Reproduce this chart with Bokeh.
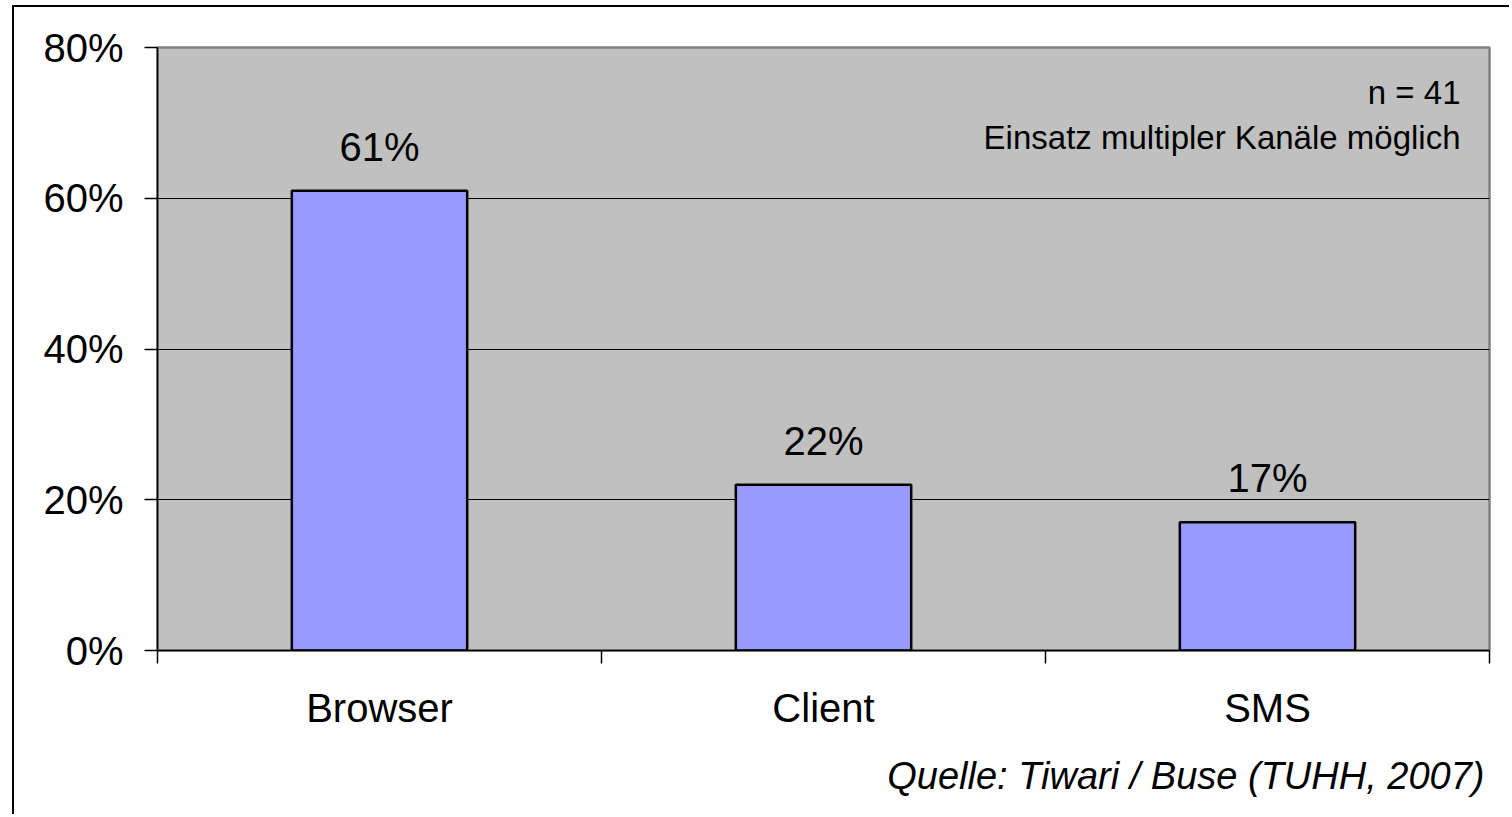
from bokeh.plotting import figure
from bokeh.models import (FactorRange, Range1d, CategoricalAxis, FixedTicker,
                          PrintfTickFormatter, Label, ColumnDataSource, Title)
from bokeh.core.properties import value
from bokeh.embed import file_html
from bokeh.resources import INLINE

categories = ["Browser", "Client", "SMS"]
shares = [61, 22, 17]
y_ticks = [0, 20, 40, 60, 80]
sample_note = "n = 41"
channel_note = "Einsatz multipler Kanäle möglich"
source_note = "Quelle: Tiwari / Buse (TUHH, 2007)"

FONT = value("Liberation Sans")

src = ColumnDataSource(dict(cat=categories, val=shares, label=[f"{v}%" for v in shares]))

p = figure(
    x_range=FactorRange(factors=categories, range_padding=0),
    y_range=Range1d(0, 80),
    width=1497, height=809,
    output_backend="svg", toolbar_location=None,
    x_axis_location=None,
    min_border_left=143, min_border_top=40, min_border_right=22, min_border_bottom=166,
    background_fill_color="#C0C0C0", border_fill_color="white",
    outline_line_color="#808080", outline_line_width=2.5,
)
p.styles = {"margin-left": "12px", "margin-top": "5px",
            "border-left": "2px solid black", "border-top": "2px solid black"}

# boundary positions between categories (category edges), as a second categorical range
edges = [f"edge{i}" for i in range(len(categories) + 1)]
p.extra_x_ranges = {"edges": FactorRange(factors=edges, range_padding=-0.4999,
                                         range_padding_units="absolute")}

p.vbar(x="cat", top="val", width=0.395, source=src, fill_color="#9999FF",
       line_color="black", line_width=2.5)

p.text(x="cat", y="val", text="label", source=src, text_align="center",
       text_baseline="alphabetic", y_offset=-44, text_font=FONT,
       text_font_size="40px", text_color="black")

# y axis
ya = p.yaxis[0]
ya.ticker = FixedTicker(ticks=y_ticks)
ya.formatter = PrintfTickFormatter(format="%d%%")
ya.major_label_text_font = "Liberation Sans"
ya.major_label_text_font_size = "40px"
ya.major_label_text_color = "black"
ya.major_label_standoff = 21
ya.major_tick_out = 13
ya.major_tick_in = 0
ya.minor_tick_line_color = None
ya.axis_line_width = 1.5
ya.axis_line_color = "black"
ya.major_tick_line_color = "black"
ya.major_tick_line_width = 1.5

p.ygrid.ticker = FixedTicker(ticks=y_ticks)
p.ygrid.grid_line_color = "black"
p.ygrid.grid_line_width = 1
p.xgrid.grid_line_color = None

# x axis line with ticks at category edges
tick_axis = CategoricalAxis(x_range_name="edges",
                            major_label_text_font_size="0px", major_label_text_color=None,
                            major_tick_out=13, major_tick_in=0,
                            axis_line_color="black", axis_line_width=1.5,
                            major_tick_line_color="black", major_tick_line_width=1.5,
                            major_label_standoff=0)
p.add_layout(tick_axis, "below")

cat_axis = CategoricalAxis(axis_line_color=None, major_tick_line_color=None,
                           major_label_text_font="Liberation Sans", major_label_text_font_size="40px",
                           major_label_text_color="black", major_label_standoff=16)
p.add_layout(cat_axis, "below")

p.add_layout(Title(text=source_note, align="right", text_font="Liberation Sans",
                   text_font_style="italic", text_font_size="38px", text_color="black",
                   standoff=40, offset=5), "below")

right_edge = len(categories)
p.add_layout(Label(x=right_edge, y=80, x_offset=-29, y_offset=-45,
                   text=sample_note, text_align="right", text_baseline="alphabetic",
                   text_font="Liberation Sans", text_font_size="33px", text_color="black"))
p.add_layout(Label(x=right_edge, y=80, x_offset=-29, y_offset=-90,
                   text=channel_note, text_align="right", text_baseline="alphabetic",
                   text_font="Liberation Sans", text_font_size="33px", text_color="black"))

open("out.html", "w").write(file_html(p, INLINE))
